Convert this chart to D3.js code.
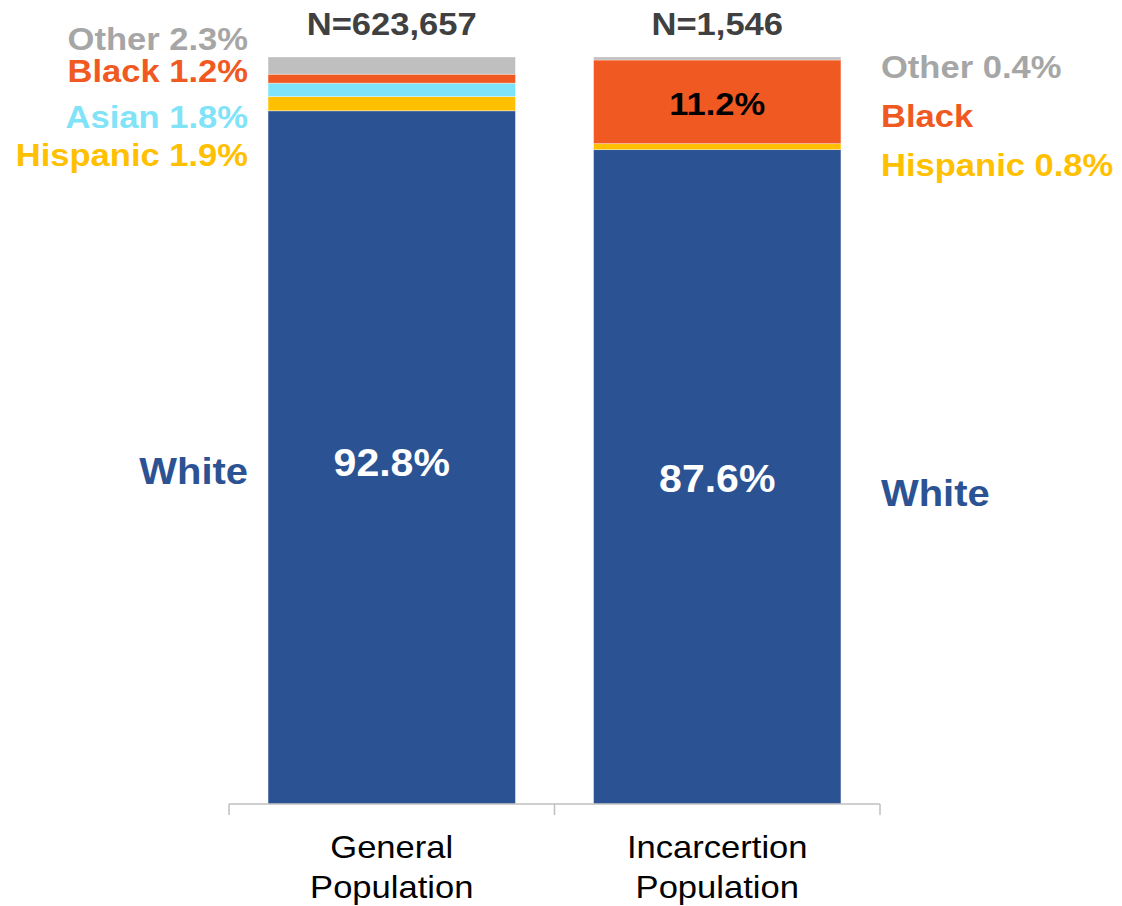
<!DOCTYPE html>
<html>
<head>
<meta charset="utf-8">
<script src="https://cdn.jsdelivr.net/npm/d3@7"></script>
<style>
  html, body { margin: 0; padding: 0; background: #fff; }
  svg { display: block; }
  text { font-family: "Liberation Sans", Arial, Helvetica, sans-serif; }
</style>
</head>
<body>
<svg id="chart" width="1122" height="906"></svg>
<script>
// ---- data ----
const categories = ["General Population", "Incarcertion Population"];
const nLabels = ["N=623,657", "N=1,546"];
const groups = ["White", "Hispanic", "Asian", "Black", "Other"];
const white    = [92.8, 87.6];
const hispanic = [1.9, 0.8];
const asian    = [1.8, 0.0];
const black    = [1.2, 11.2];
const other    = [2.3, 0.4];

const colors = {
  White: "#2B5393", Hispanic: "#FFC000", Asian: "#7FE4FA", Black: "#F05A22", Other: "#BFBFBF"
};
const labelColors = {
  White: "#2B5393", Hispanic: "#FFC000", Asian: "#80E3F8", Black: "#F05A22", Other: "#A6A6A6"
};

const rows = categories.map((c, i) => ({
  cat: c, White: white[i], Hispanic: hispanic[i], Asian: asian[i], Black: black[i], Other: other[i]
}));

const svg = d3.select("#chart");
const x = d3.scaleBand().domain(categories).range([229, 880]).paddingInner(0.24).paddingOuter(0.12);
const y = d3.scaleLinear().domain([0, 100]).range([804, 57]);

const series = d3.stack().keys(groups)(rows);

// bars
svg.append("g").selectAll("g").data(series).join("g")
  .attr("fill", d => colors[d.key])
  .selectAll("rect").data(d => d).join("rect")
  .attr("x", d => x(d.data.cat))
  .attr("width", x.bandwidth())
  .attr("y", d => y(d[1]))
  .attr("height", d => Math.max(0, y(d[0]) - y(d[1])))
  .attr("stroke", "rgba(255,255,255,0.45)")
  .attr("stroke-width", 0.8);

// axis
const axisG = svg.append("g").attr("transform", "translate(0,804)");
axisG.append("line").attr("x1", 229).attr("x2", 880).attr("y1", 0).attr("y2", 0)
  .attr("stroke", "#BFBFBF").attr("stroke-width", 1.5);
const bounds = [229, (x(categories[0]) + x.bandwidth() + x(categories[1])) / 2, 880];
axisG.selectAll(".tk").data(bounds).join("line").attr("class", "tk")
  .attr("x1", d => d).attr("x2", d => d).attr("y1", 0).attr("y2", 11)
  .attr("stroke", "#BFBFBF").attr("stroke-width", 1.5);

// text helper: horizontally widened text like the reference
const SX = 1.08;
function label(px, py, str, opts) {
  return svg.append("text")
    .attr("transform", `translate(${px},${py}) scale(${SX},1)`)
    .attr("text-anchor", opts.anchor || "middle")
    .attr("font-size", opts.size)
    .attr("font-weight", opts.weight || "bold")
    .attr("fill", opts.fill)
    .text(str);
}

// category labels
categories.forEach((c) => {
  const words = c.split(" ");
  words.forEach((w, j) => {
    label(x(c) + x.bandwidth() / 2, 858 + j * 40, w, { size: 32, weight: "normal", fill: "#000" });
  });
});

// N labels
const cx = i => x(categories[i]) + x.bandwidth() / 2;
nLabels.forEach((n, i) => label(cx(i), 35, n, { size: 32, fill: "#404040" }));

// values inside bars
label(cx(0), 476, white[0].toFixed(1) + "%", { size: 38, fill: "#fff" });
label(cx(1), 492, white[1].toFixed(1) + "%", { size: 38, fill: "#fff" });
label(cx(1), 115, black[1].toFixed(1) + "%", { size: 32, fill: "#000" });

// left side labels
const leftX = x(categories[0]) - 20;
const leftLabels = [
  { key: "Other", text: "Other " + other[0] + "%", y: 50, size: 32 },
  { key: "Black", text: "Black " + black[0] + "%", y: 82, size: 32 },
  { key: "Asian", text: "Asian " + asian[0] + "%", y: 128, size: 32 },
  { key: "Hispanic", text: "Hispanic " + hispanic[0] + "%", y: 166, size: 32 },
  { key: "White", text: "White", y: 484, size: 37 }
];
leftLabels.forEach(d => label(leftX, d.y, d.text, { size: d.size, anchor: "end", fill: labelColors[d.key] }));

// right side labels
const rightX = x(categories[1]) + x.bandwidth() + 40;
const rightLabels = [
  { key: "Other", text: "Other " + other[1] + "%", y: 78, size: 32 },
  { key: "Black", text: "Black", y: 127, size: 32 },
  { key: "Hispanic", text: "Hispanic " + hispanic[1] + "%", y: 176, size: 32 },
  { key: "White", text: "White", y: 506, size: 37 }
];
rightLabels.forEach(d => label(rightX, d.y, d.text, { size: d.size, anchor: "start", fill: labelColors[d.key] }));
</script>
</body>
</html>
